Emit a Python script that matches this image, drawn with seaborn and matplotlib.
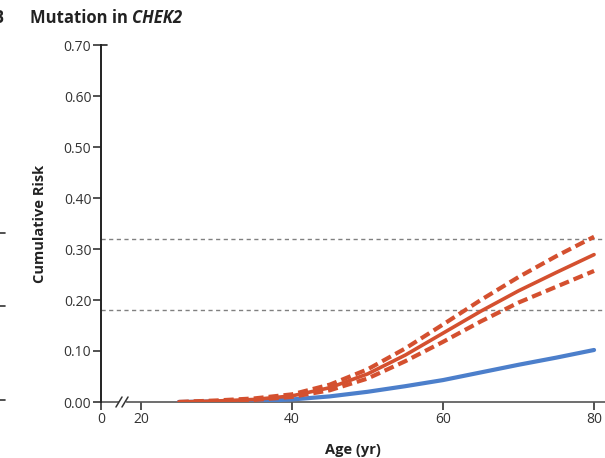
import pandas as pd
import matplotlib
matplotlib.use("Agg")
import matplotlib.pyplot as plt
import seaborn as sns

# Data
ages = [25, 30, 35, 40, 45, 50, 55, 60, 65, 70, 75, 80]
general_risk = [0, 0.001, 0.002, 0.005, 0.011, 0.020, 0.031, 0.043, 0.058, 0.073, 0.087, 0.102]
chek2_risk = [0, 0.002, 0.005, 0.012, 0.028, 0.055, 0.092, 0.135, 0.178, 0.218, 0.254, 0.289]
chek2_upper = [0, 0.003, 0.007, 0.015, 0.034, 0.064, 0.105, 0.152, 0.200, 0.245, 0.286, 0.324]
chek2_lower = [0, 0.001, 0.004, 0.010, 0.023, 0.046, 0.080, 0.118, 0.158, 0.195, 0.226, 0.257]
ref_lines = [0.32, 0.18]
y_ticks = [0.0, 0.1, 0.2, 0.3, 0.4, 0.5, 0.6, 0.7]
x_ticks = [14.7, 20, 40, 60, 80]
x_tick_labels = ['0', '20', '40', '60', '80']

df = pd.DataFrame({'age': ages, 'general': general_risk, 'chek2': chek2_risk,
                   'upper': chek2_upper, 'lower': chek2_lower})

sns.set_style('white')
plt.rcParams['font.family'] = ['Open Sans', 'DejaVu Sans']

red = '#D4502F'
blue = '#4C7FCB'

fig = plt.figure(figsize=(6.05, 4.58), dpi=100)
ax = fig.add_axes([101 / 605, 1 - 402 / 458, 504 / 605, (402 - 45) / 458])

for y in ref_lines:
    ax.axhline(y, color='#808080', linestyle=(0, (3, 2.5)), linewidth=1.0, zorder=1)

sns.lineplot(data=df, x='age', y='general', ax=ax, color=blue, linewidth=3.0, zorder=3)
sns.lineplot(data=df, x='age', y='chek2', ax=ax, color=red, linewidth=2.6, zorder=4)
sns.lineplot(data=df, x='age', y='upper', ax=ax, color=red, linewidth=3.0,
             linestyle=(0, (2.4, 1.2)), zorder=4)
sns.lineplot(data=df, x='age', y='lower', ax=ax, color=red, linewidth=3.0,
             linestyle=(0, (2.4, 1.2)), zorder=4)

ax.set_xlim(14.7, 81.45)
ax.set_ylim(0, 0.7)
ax.set_xticks(x_ticks)
ax.set_xticklabels(x_tick_labels)
ax.set_yticks(y_ticks)
ax.set_yticklabels([f'{v:.2f}' for v in y_ticks])
ax.tick_params(axis='both', which='major', direction='out', length=6, width=1.2,
               color='#333333', labelsize=10, labelcolor='#333333', pad=1,
               left=True, bottom=True)

for side in ['top', 'right']:
    ax.spines[side].set_visible(False)
ax.spines['left'].set_color('#222222')
ax.spines['left'].set_linewidth(1.4)
ax.spines['bottom'].set_color('#555555')
ax.spines['bottom'].set_linewidth(1.2)
ax.spines['left'].set_zorder(5)

ax.set_xlabel('Age (yr)', fontsize=10.5, fontweight='bold', color='#222222', labelpad=12)
ax.set_ylabel('Cumulative Risk', fontsize=10.5, fontweight='bold', color='#222222', labelpad=12)
ax.grid(False)

# axis break marks
aw = 504
for px in [119, 125]:
    fx = (px - 101) / aw
    ax.plot([fx - 0.006, fx + 0.006], [-0.014, 0.014], transform=ax.transAxes,
            color='#333333', linewidth=1.1, clip_on=False, zorder=6)
ax.plot([(120 - 101) / aw, (124 - 101) / aw], [0, 0], transform=ax.transAxes,
        color='white', linewidth=2.5, clip_on=False, zorder=5)

# small stub at top of y axis
ax.plot([0, 6 / aw], [1, 1], transform=ax.transAxes, color='#222222',
        linewidth=1.2, clip_on=False)

# title (panel letter partly cut by the left edge)
fig.text(-7 / 605, 1 - 23 / 458, 'B', fontsize=12, fontweight='bold', color='#222222')
t1 = fig.text(30 / 605, 1 - 23 / 458, 'Mutation in ', fontsize=12, fontweight='bold',
              color='#222222')
fig.canvas.draw()
ax.annotate('CHEK2', xy=(1, 0), xycoords=t1, va='bottom', ha='left', fontsize=12,
            fontweight='bold', fontstyle='italic', color='#222222', annotation_clip=False)

# remnants of the neighbouring panel's ticks
for py in [233, 306, 400]:
    fig.add_artist(plt.Line2D([0, 5 / 605], [1 - py / 458, 1 - py / 458],
                              color='#333333', linewidth=1.2))

fig.savefig('out.png', dpi=100)
